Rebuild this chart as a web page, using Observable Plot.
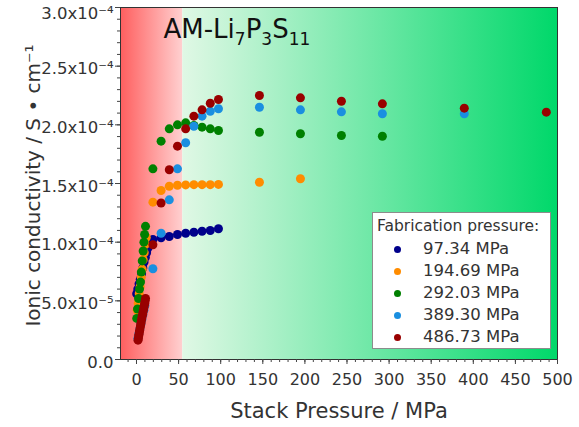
<!DOCTYPE html>
<html>
<head>
<meta charset="utf-8">
<script src="https://cdn.jsdelivr.net/npm/d3@7"></script>
<script src="https://cdn.jsdelivr.net/npm/@observablehq/plot@0.6"></script>
<style>
  body { margin: 0; background: #fff; }
  #wrap { position: relative; width: 579px; height: 427px; font-family: "DejaVu Sans", sans-serif; color: #333; }
  #legend { position: absolute; left: 372px; top: 212px; width: 179px; height: 137px; box-sizing: border-box;
            background: #fff; border: 1px solid #8c8c8c; }
  #legend .hdr { position: absolute; left: 4px; top: 4px; font-size: 15.5px; white-space: nowrap; }
  #legend .row { position: absolute; left: 0; height: 20px; line-height: 20px; font-size: 16.5px; white-space: nowrap; }
  #legend .dot { position: absolute; left: 21px; top: 6.5px; width: 7px; height: 7px; border-radius: 50%; }
  #legend .lab { position: absolute; left: 50px; top: 0; }
</style>
</head>
<body>
<div id="wrap"></div>
<script>
// ---- text ----
const titleParts = [["AM-Li", false], ["7", true], ["P", false], ["3", true], ["S", false], ["11", true]];
const titleText = titleParts.map(p => p[0]).join("");
const xLabel = "Stack Pressure / MPa";
const yLabel = "Ionic conductivity / S • cm⁻¹";
const legendTitle = "Fabrication pressure:";

// ---- ticks ----
const xTicks = [0, 50, 100, 150, 200, 250, 300, 350, 400, 450, 500];
const yTicks = [0, 0.5, 1.0, 1.5, 2.0, 2.5, 3.0];           // in 1e-4 S/cm
const yTickLabels = ["0.0", "5.0x10⁻⁵", "1.0x10⁻⁴", "1.5x10⁻⁴", "2.0x10⁻⁴", "2.5x10⁻⁴", "3.0x10⁻⁴"];
const xMinorTicks = d3.range(-10, 501, 10);
const yMinorTicks = d3.range(0, 3.01, 0.1);

// ---- series (x: stack pressure MPa, y: conductivity in 1e-4 S/cm) ----
const seriesNames = ["97.34 MPa", "194.69 MPa", "292.03 MPa", "389.30 MPa", "486.73 MPa"];
const seriesColors = ["#00008b", "#ff8c00", "#008000", "#1a8fe0", "#990000"];

const s97_x = [0.2, 1.5, 3.0, 4.5, 6.0, 7.5, 9.0, 10.5, 12.0, 13.6, 15.2,
               19.47, 29.20, 38.94, 48.67, 58.40, 68.14, 77.87, 87.61, 97.34];
const s97_y = [0.56, 0.60, 0.645, 0.685, 0.73, 0.78, 0.83, 0.87, 0.91, 0.95, 0.99,
               1.023, 1.037, 1.048, 1.065, 1.076, 1.085, 1.093, 1.099, 1.114];

const s194_x = [0.8, 2.0, 3.2, 4.4, 5.6, 6.8, 8.0, 9.2, 10.4, 11.6,
                19.47, 29.20, 38.94, 48.67, 58.40, 68.14, 77.87, 87.61, 97.34, 146.01, 194.69];
const s194_y = [0.42, 0.48, 0.56, 0.62, 0.70, 0.77, 0.85, 0.91, 0.98, 1.04,
                1.341, 1.44, 1.477, 1.485, 1.488, 1.49, 1.49, 1.49, 1.492, 1.511, 1.54];

const s292_x = [0.3, 1.2, 2.4, 3.6, 4.8, 5.7, 6.8, 7.9, 8.8, 9.6, 10.7,
                19.47, 29.20, 38.94, 48.67, 58.40, 68.14, 77.87, 87.61, 97.34, 146.01, 194.69, 243.37, 292.03];
const s292_y = [0.35, 0.43, 0.52, 0.60, 0.66, 0.745, 0.84, 0.925, 1.0, 1.065, 1.135,
                1.625, 1.861, 1.966, 2.0, 2.017, 1.994, 1.98, 1.966, 1.952, 1.937, 1.924, 1.909, 1.903];

const s389_x = [1.6, 2.8, 4.0, 5.2, 6.4, 7.6, 8.8, 10.0,
                19.47, 29.20, 38.94, 48.67, 58.40, 68.14, 77.87, 87.61, 97.34, 146.01, 194.69, 243.37, 292.03, 389.30];
const s389_y = [0.18, 0.22, 0.26, 0.30, 0.34, 0.38, 0.42, 0.46,
                0.773, 1.076, 1.361, 1.625, 1.847, 1.988, 2.074, 2.116, 2.137, 2.150, 2.128, 2.111, 2.094, 2.094];

const s486_x = [1.8, 2.2, 2.6, 3.0, 3.4, 3.8, 4.3, 4.8, 5.3, 5.8, 6.3, 6.8, 7.3, 7.8, 8.3, 8.8, 9.3, 9.8, 10.3, 10.7,
                19.47, 29.20, 38.94, 48.67, 58.40, 68.14, 77.87, 87.61, 97.34, 146.01, 194.69, 243.37, 292.03, 389.30, 486.73];
const s486_y = [0.165, 0.18, 0.20, 0.215, 0.235, 0.25, 0.27, 0.29, 0.31, 0.33, 0.35, 0.37, 0.385, 0.405, 0.425, 0.44, 0.46, 0.48, 0.50, 0.52,
                0.978, 1.334, 1.617, 1.818, 1.966, 2.074, 2.128, 2.184, 2.216, 2.250, 2.230, 2.201, 2.179, 2.142, 2.108];

// ---- background zones (stack pressure ranges) ----
const zoneStart = [-19, 55];
const zoneEnd = [55, 500];
const zoneGradient = ["gRed", "gGreen"];

// ---- build table ----
const xs = [s97_x, s194_x, s292_x, s389_x, s486_x];
const ys = [s97_y, s194_y, s292_y, s389_y, s486_y];
const rows = [];
xs.forEach((xa, k) => xa.forEach((x, i) => rows.push({series: seriesNames[k], x, y: ys[k][i]})));
const zones = zoneStart.map((s, i) => ({x1: s, x2: zoneEnd[i], g: zoneGradient[i]}));

const defs = () => {
  const d = d3.create("svg:defs");
  const r = d.append("linearGradient").attr("id", "gRed").attr("x1", 0).attr("x2", 1).attr("y1", 0).attr("y2", 0);
  r.append("stop").attr("offset", "0").attr("stop-color", "#ff5e5e");
  r.append("stop").attr("offset", "1").attr("stop-color", "#ffd0d0");
  const g = d.append("linearGradient").attr("id", "gGreen").attr("x1", 0).attr("x2", 1).attr("y1", 0).attr("y2", 0);
  g.append("stop").attr("offset", "0").attr("stop-color", "#e0f8e5");
  g.append("stop").attr("offset", "1").attr("stop-color", "#00d86a");
  return d.node();
};

const chart = Plot.plot({
  width: 579, height: 427,
  marginLeft: 120, marginRight: 22, marginTop: 7, marginBottom: 68,
  style: {fontFamily: "DejaVu Sans", background: "transparent", color: "#333", overflow: "visible"},
  x: {domain: [-19, 500], label: null},
  y: {domain: [0, 3], label: null},
  color: {domain: seriesNames, range: seriesColors},
  marks: [
    defs,
    Plot.rect(zones, {x1: "x1", x2: "x2", y1: 0, y2: 3, fill: d => `url(#${d.g})`}),
    Plot.dot(rows, {x: "x", y: "y", fill: "series", r: 4.5}),
    Plot.frame({stroke: "#333", strokeWidth: 1}),
    Plot.axisX({ticks: xMinorTicks, tickSize: 3, fill: "none", label: null, stroke: "#444"}),
    Plot.axisX({ticks: xTicks, tickSize: 5, tickPadding: 9, fontSize: 16, label: null, stroke: "#444", fill: "#333"}),
    Plot.axisY({ticks: yMinorTicks, tickSize: 3, fill: "none", label: null, stroke: "#444"}),
    Plot.axisY({ticks: yTicks, tickSize: 5, fill: "none", label: null, stroke: "#444"}),
    Plot.text(yTicks.slice(0, -1), {y: d => d, text: (d, i) => yTickLabels[i], frameAnchor: "left",
      textAnchor: "end", dx: -7, dy: 3, fontSize: 16.5, fill: "#333"}),
    Plot.text([yTicks[yTicks.length - 1]], {y: d => d, text: () => yTickLabels[yTickLabels.length - 1], frameAnchor: "left",
      textAnchor: "end", dx: -7, dy: 6, fontSize: 16.5, fill: "#333"}),
    Plot.text([xLabel], {frameAnchor: "bottom", dy: 52, fontSize: 21, lineAnchor: "middle", textAnchor: "middle", fill: "#333"}),
    Plot.text([yLabel], {frameAnchor: "left", dx: -87, dy: 2, rotate: -90, fontSize: 20, lineAnchor: "middle",
      textAnchor: "middle", fill: "#333"}),
    Plot.text([titleText], {frameAnchor: "top-left", dx: 43, dy: 30, textAnchor: "start", lineAnchor: "bottom",
      fontSize: 26, fill: "#111"})
  ]
});

// render the title with real sub-scripts
d3.select(chart).selectAll("text").filter(function() { return this.textContent === titleText; }).each(function() {
  const t = d3.select(this);
  t.text(null);
  let lowered = false;
  titleParts.forEach(([s, sub]) => {
    const sp = t.append("tspan").text(s);
    if (sub && !lowered) { sp.attr("dy", 7).attr("font-size", 17); lowered = true; }
    else if (sub) { sp.attr("font-size", 17); }
    else if (!sub && lowered) { sp.attr("dy", -7); lowered = false; }
  });
});

const wrap = document.getElementById("wrap");
wrap.appendChild(chart);

// legend
const leg = document.createElement("div");
leg.id = "legend";
const hdr = document.createElement("div");
hdr.className = "hdr";
hdr.textContent = legendTitle;
leg.appendChild(hdr);
const rowTops = [26, 48, 70, 92, 114];
seriesNames.forEach((name, i) => {
  const r = document.createElement("div");
  r.className = "row";
  r.style.top = rowTops[i] + "px";
  const dot = document.createElement("span");
  dot.className = "dot";
  dot.style.background = seriesColors[i];
  const lab = document.createElement("span");
  lab.className = "lab";
  lab.textContent = name;
  r.appendChild(dot);
  r.appendChild(lab);
  leg.appendChild(r);
});
wrap.appendChild(leg);
</script>
</body>
</html>
